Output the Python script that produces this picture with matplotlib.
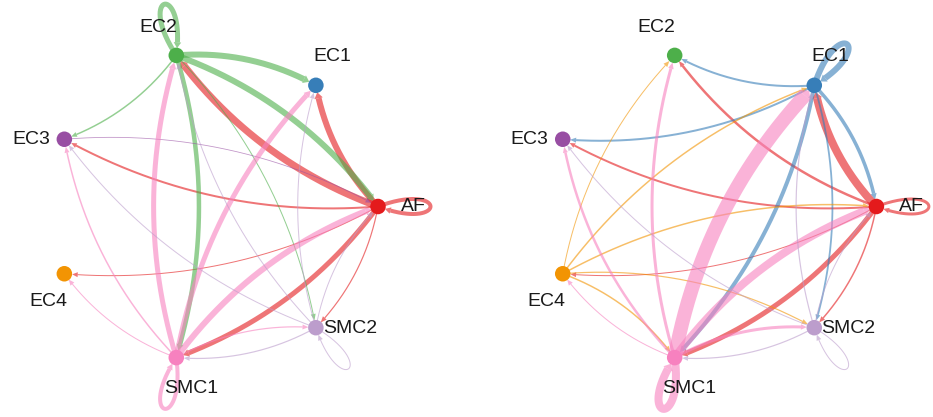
import numpy as np
import matplotlib
matplotlib.use('Agg')  # no display
import matplotlib.pyplot as plt

plt.rcParams['font.family'] = ['Liberation Sans', 'DejaVu Sans']

# cell groups in circle order (counter-clockwise from the right)
groups = ['AF', 'EC1', 'EC2', 'EC3', 'EC4', 'SMC1', 'SMC2']
group_colors = ['#E41A1C', '#377EB8', '#4DAF4A', '#984EA3',
                '#F29403', '#F781BF', '#BC9DCC']

# left network: sender, receiver, interaction strength
left_src = ['AF', 'AF', 'AF', 'AF', 'AF', 'AF', 'AF',
            'EC2', 'EC2', 'EC2', 'EC2', 'EC2', 'EC2',
            'EC3',
            'SMC1', 'SMC1', 'SMC1', 'SMC1', 'SMC1', 'SMC1', 'SMC1',
            'SMC2', 'SMC2', 'SMC2', 'SMC2', 'SMC2', 'SMC2']
left_tgt = ['AF', 'EC1', 'EC2', 'EC3', 'EC4', 'SMC1', 'SMC2',
            'EC2', 'EC1', 'AF', 'EC3', 'SMC1', 'SMC2',
            'AF',
            'SMC1', 'EC1', 'EC2', 'AF', 'EC3', 'EC4', 'SMC2',
            'SMC2', 'EC1', 'EC2', 'EC3', 'AF', 'SMC1']
left_w = [4, 6, 7, 2, 1, 5, 1.2,
          5, 6, 6, 1.5, 4.5, 1,
          0.8,
          4, 5, 5, 6, 1.5, 1, 1.2,
          1, 1, 1, 1, 1, 1.2]

# right network
right_src = ['AF', 'AF', 'AF', 'AF', 'AF', 'AF', 'AF',
             'EC1', 'EC1', 'EC1', 'EC1', 'EC1', 'EC1',
             'EC4', 'EC4', 'EC4', 'EC4', 'EC4',
             'SMC1', 'SMC1', 'SMC1', 'SMC1', 'SMC1', 'SMC1', 'SMC1',
             'SMC2', 'SMC2', 'SMC2', 'SMC2', 'SMC2']
right_tgt = ['AF', 'EC1', 'EC2', 'EC3', 'EC4', 'SMC1', 'SMC2',
             'EC1', 'EC2', 'EC3', 'AF', 'SMC1', 'SMC2',
             'EC1', 'EC2', 'AF', 'SMC1', 'SMC2',
             'SMC1', 'EC1', 'AF', 'EC2', 'EC3', 'EC4', 'SMC2',
             'SMC2', 'EC1', 'EC3', 'SMC1', 'AF']
right_w = [3, 8, 2.5, 2, 1, 5, 1.5,
           6, 2, 2, 3.5, 4, 1.8,
           1.5, 1, 1.5, 1.5, 1.2,
           8, 14, 8, 3, 2.5, 1, 3,
           1, 1.2, 1, 1.2, 1]

# label offsets from the node, in pixels (x right, y down)
label_offsets = {'AF': (35, 0), 'EC1': (16, -29), 'EC2': (-18, -28),
                 'EC3': (-33, 0), 'EC4': (-16, 28), 'SMC1': (15, 31),
                 'SMC2': (34, 1)}

SX, SY = 165.0, 155.0  # pixels per unit of the circle layout
NODE_R = 7.0           # node radius, px
CURVE = 0.15
color_of = dict(zip(groups, group_colors))


def node_positions():
    ang = 2 * np.pi * np.arange(len(groups)) / len(groups)
    return {g: (np.array([np.cos(a) * SX, np.sin(a) * SY]), a)
            for g, a in zip(groups, ang)}


def bezier(ctrl, n=300):
    """Sample a quadratic or cubic Bezier curve."""
    t = np.linspace(0, 1, n)[:, None]
    c = [np.asarray(p, float) for p in ctrl]
    if len(c) == 3:
        return (1 - t) ** 2 * c[0] + 2 * (1 - t) * t * c[1] + t ** 2 * c[2]
    return ((1 - t) ** 3 * c[0] + 3 * (1 - t) ** 2 * t * c[1]
            + 3 * (1 - t) * t ** 2 * c[2] + t ** 3 * c[3])


def draw_edge(ax, pts, end, lw_px, color):
    """Curve in pixel space, cut at the target node with a small head."""
    head_len = 6.0
    head_w = max(5.0, lw_px + 2.5)
    dist = np.hypot(*(pts - end).T)
    idx = np.arange(len(pts))
    tip_i = idx[dist >= NODE_R][-1]
    base_i = idx[(dist >= NODE_R + head_len) & (idx < tip_i)][-1]
    line = pts[:base_i + 1]
    ax.plot(line[:, 0] / SX, line[:, 1] / SY, color=color, alpha=0.6,
            lw=lw_px * 0.72, solid_capstyle='butt', clip_on=False,
            zorder=2)
    tip, base = pts[tip_i], pts[base_i]
    d = (tip - base) / np.hypot(*(tip - base))
    nrm = np.array([-d[1], d[0]])
    tri = np.array([tip, base + nrm * head_w / 2, base - nrm * head_w / 2])
    ax.fill(tri[:, 0] / SX, tri[:, 1] / SY, color=color, alpha=0.6,
            lw=0, clip_on=False, zorder=2)


def draw_network(ax, src, tgt, weights):
    pos = node_positions()
    for s, t, w in zip(src, tgt, weights):
        col = color_of[s]
        if s == t:
            # self loop pointing outwards from the circle
            p, a = pos[s]
            d = np.array([np.cos(a), np.sin(a)])
            n = np.array([-np.sin(a), np.cos(a)])
            pts = bezier([p, p + 70 * d + 26 * n, p + 70 * d - 26 * n, p])
            draw_edge(ax, pts, p, w, col)
        else:
            p0, p2 = pos[s][0], pos[t][0]
            v = p2 - p0
            ctrl = (p0 + p2) / 2 + CURVE * np.array([-v[1], v[0]])
            draw_edge(ax, bezier([p0, ctrl, p2]), p2, w, col)

    xs = [pos[g][0][0] / SX for g in groups]
    ys = [pos[g][0][1] / SY for g in groups]
    ax.scatter(xs, ys, s=125, c=group_colors, edgecolors='none',
               zorder=5, clip_on=False)
    for g in groups:
        dx, dy = label_offsets[g]
        ax.text((pos[g][0][0] + dx) / SX, (pos[g][0][1] - dy) / SY, g,
                ha='center', va='center', fontsize=14, color='#1a1a1a',
                zorder=6, clip_on=False)


fig = plt.figure(figsize=(9.33, 4.17), dpi=100)
W, H = 933.0, 417.0
cy = 206.5  # circle centre, pixels from top
ylim = (-(H - cy) / SY, cy / SY)

ax1 = fig.add_axes([0, 0, 466 / W, 1])
ax1.set_xlim(-213 / SX, (466 - 213) / SX)
ax1.set_ylim(*ylim)
ax1.axis('off')
draw_network(ax1, left_src, left_tgt, left_w)

ax2 = fig.add_axes([466 / W, 0, (W - 466) / W, 1])
ax2.set_xlim((466 - 711.4) / SX, (W - 711.4) / SX)
ax2.set_ylim(*ylim)
ax2.axis('off')
draw_network(ax2, right_src, right_tgt, right_w)

fig.savefig('out.png', dpi=100)
